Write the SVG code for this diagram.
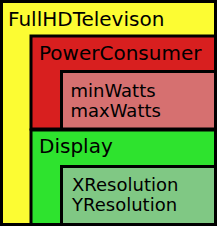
<svg xmlns="http://www.w3.org/2000/svg" width="217" height="226" viewBox="0 0 217 226">
<style>
.box{stroke:#000;stroke-width:3}
.t{font-family:"DejaVu Sans",sans-serif;fill:#000}
.big{font-size:20px}
.small{font-size:18px}
</style>
<g id="FullHDTelevison">
<rect class="box" x="1.5" y="1.5" width="214" height="223" fill="#fcfc33"/>
<text class="t big" x="8" y="26">FullHDTelevison</text>
</g>
<g id="PowerConsumer">
<rect class="box" x="31" y="36" width="184.5" height="93" fill="#d81f1f"/>
<text class="t big" x="39" y="60">PowerConsumer</text>
</g>
<g id="PowerConsumerAttributes">
<rect class="box" x="61.5" y="71.5" width="154" height="57.5" fill="#d67070"/>
<text class="t small" x="70.5" y="97">minWatts</text>
<text class="t small" x="70.5" y="117">maxWatts</text>
</g>
<g id="Display">
<rect class="box" x="31" y="130" width="184.5" height="94.5" fill="#2ee32e"/>
<text class="t big" x="39" y="153">Display</text>
</g>
<g id="DisplayAttributes">
<rect class="box" x="61.5" y="166.5" width="154" height="58" fill="#80c884"/>
<text class="t small" x="72" y="191">XResolution</text>
<text class="t small" x="72" y="211">YResolution</text>
</g>
<g id="connectors"/>
</svg>
